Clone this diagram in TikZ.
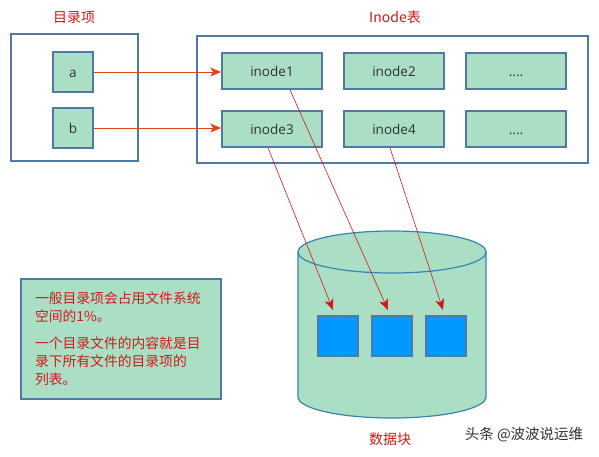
\documentclass[tikz,border=0pt]{standalone}
\usepackage{fontspec}
\setmainfont{Noto Sans CJK SC}
\newfontfamily\latinfont{Open Sans}
\usetikzlibrary{arrows.meta}
\definecolor{boxgreen}{HTML}{AADFC6}
\definecolor{frameblue}{HTML}{5079A6}
\definecolor{labelred}{HTML}{D01818}
\definecolor{linkorange}{HTML}{E0441A}
\definecolor{blockblue}{HTML}{0099FF}
\definecolor{cylline}{HTML}{3385B2}
\definecolor{textgray}{HTML}{333333}

\begin{document}
\begin{tikzpicture}[x=1pt, y=-1pt,
    frame/.style={draw=frameblue, line width=1.6pt},
    entry/.style={draw=frameblue, fill=boxgreen, line width=1.6pt, inner sep=0pt,
      minimum width=40pt, minimum height=40pt, text=textgray, font=\latinfont\fontsize{13.5}{15}\selectfont,
      text height=10pt, text depth=0pt},
    inode/.style={entry, minimum width=100pt, minimum height=36pt},
    block/.style={draw=frameblue, fill=blockblue, line width=1.2pt, minimum size=40pt, inner sep=0pt},
    title/.style={text=labelred, font=\fontsize{14}{16}\selectfont},
    link/.style={draw=linkorange, line width=0.8pt, -{Stealth[length=11pt, width=9pt, inset=3pt]}},
    pointer/.style={draw=labelred, line width=0.6pt, -{Stealth[length=11pt, width=9pt, inset=3pt]}}]
  \useasboundingbox (0,0) rectangle (599,456);
  % directory and inode table
  \draw [frame] (11,34) rectangle (138,161);
  \draw [frame] (197,36) rectangle (588,163);
  \node [title] (dirtitle) at (74,17) {目录项};
  \node [title] (tabtitle) at (395,17) {Inode表};
  \node [entry] (a) at (73,72) {a};
  \node [entry] (b) at (73,128) {b};
  \node [inode] (inode1) at (272,71) {inode1};
  \node [inode] (inode2) at (394,71) {inode2};
  \node [inode] (more1) at (516,71) {....};
  \node [inode] (inode3) at (272,129) {inode3};
  \node [inode] (inode4) at (394,129) {inode4};
  \node [inode] (more2) at (516,129) {....};
  \draw [link] (a.east) -- (a.east -| inode1.west);
  \draw [link] (b.east) -- (b.east -| inode3.west);
  % data blocks
  \fill [boxgreen] (298,252) -- (298,397) arc [start angle=180, end angle=0, x radius=94, y radius=21] -- (486,252) -- cycle;
  \filldraw [fill=boxgreen, draw=cylline, line width=1.2pt] (392,252) ellipse [x radius=94, y radius=21];
  \draw [cylline, line width=1.2pt] (298,252) -- (298,397) arc [start angle=180, end angle=0, x radius=94, y radius=21] -- (486,252);
  \node [block] (blk1) at (338,336) {};
  \node [block] (blk2) at (392,336) {};
  \node [block] (blk3) at (446,336) {};
  \coordinate (tip1) at (333,310);
  \coordinate (tip2) at (388,310);
  \coordinate (tip3) at (443,310);
  \draw [pointer] ([xshift=-4pt]inode3.south) -- (tip1);
  \draw [pointer] ([xshift=18pt]inode1.south) -- (tip2);
  \draw [pointer] ([xshift=-4pt]inode4.south) -- (tip3);
  \node [title] (blktitle) at (390,439) {数据块};
  % note
  \node [draw=frameblue, fill=boxgreen, line width=1.6pt, minimum width=200pt, minimum height=120pt,
    inner xsep=14pt, text width=172pt, align=left, text=labelred,
    font=\fontsize{13.8}{18}\selectfont] (note) at (121,339)
    {一般目录项会占用文件系统\\空间的1\%。\\[9pt]一个目录文件的内容就是目\\录下所有文件的目录项的\\列表。};
  \node [text=textgray, font=\fontsize{14.5}{16}\selectfont] (mark) at (524,435) {头条 @波波说运维};
\end{tikzpicture}
\end{document}
